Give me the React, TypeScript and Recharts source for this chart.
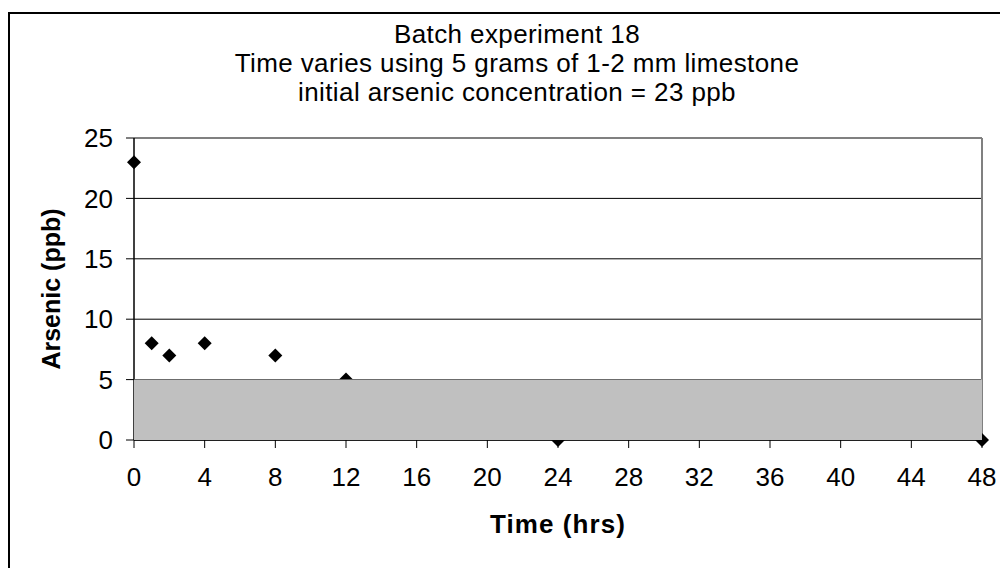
import {
  ScatterChart,
  Scatter,
  XAxis,
  YAxis,
  CartesianGrid,
  ReferenceArea,
  ReferenceLine,
} from 'recharts';

// 時間 (hrs) と ヒ素濃度 (ppb)
const hours = [0, 1, 2, 4, 8, 12, 24, 48];
const arsenic = [23, 8, 7, 8, 7, 5, 0, 0];
const xTicks = [0, 4, 8, 12, 16, 20, 24, 28, 32, 36, 40, 44, 48];
const yTicks = [0, 5, 10, 15, 20, 25];
const titleLines = [
  'Batch experiment 18',
  'Time varies using 5 grams of 1-2 mm limestone',
  'initial arsenic concentration = 23 ppb',
];
const limitBand = [0, 5];

const FONT = '"Liberation Sans", Arial, sans-serif';

const Diamond = (props: any) => {
  const { cx, cy } = props;
  const r = 7;
  return (
    <polygon
      points={`${cx},${cy - r} ${cx + r},${cy} ${cx},${cy + r} ${cx - r},${cy}`}
      fill="#000"
    />
  );
};

export default function App() {
  const data = hours.map((h, i) => ({ x: h, y: arsenic[i] }));

  return (
    <div style={{ position: 'relative', width: 1000, height: 560, overflow: 'hidden', fontFamily: FONT }}>
      {/* 外枠（右・下は画像外） */}
      <div
        style={{
          position: 'absolute',
          left: 0,
          top: 4,
          width: 1200,
          height: 800,
          borderTop: '2px solid #000',
          borderLeft: '2px solid #000',
        }}
      />
      {titleLines.map((t, i) => (
        <div
          key={i}
          style={{
            position: 'absolute',
            left: 209,
            width: 600,
            top: 11 + i * 29,
            lineHeight: '30px',
            fontSize: 26,
            letterSpacing: 0.4,
            textAlign: 'center',
            color: '#000',
          }}
        >
          {t}
        </div>
      ))}
      <div style={{ position: 'absolute', left: 0, top: 0 }}>
        <ScatterChart
          width={1000}
          height={560}
          margin={{ top: 130, right: 26, left: 0, bottom: 0 }}
        >
          <CartesianGrid vertical={false} stroke="#000" strokeWidth={1} />
          <XAxis
            type="number"
            dataKey="x"
            domain={[0, 48]}
            ticks={xTicks}
            interval={0}
            height={128}
            tickSize={8}
            tickMargin={20}
            axisLine={{ stroke: '#000', strokeWidth: 1.5 }}
            tickLine={{ stroke: '#000' }}
            tick={{ fill: '#000', fontSize: 26, fontFamily: FONT }}
            label={{
              content: (p: any) => {
                const vb = p.viewBox;
                return (
                  <text
                    x={vb.x + vb.width / 2}
                    y={525}
                    textAnchor="middle"
                    fontSize={26}
                    fontWeight="bold"
                    letterSpacing={1.1}
                    fontFamily={FONT}
                    fill="#000"
                  >
                    Time (hrs)
                  </text>
                );
              },
            }}
          />
          <YAxis
            type="number"
            dataKey="y"
            domain={[0, 25]}
            ticks={yTicks}
            interval={0}
            width={126}
            tickSize={8}
            tickMargin={13}
            axisLine={{ stroke: '#000', strokeWidth: 1.5 }}
            tickLine={{ stroke: '#000' }}
            tick={{ fill: '#000', fontSize: 26, fontFamily: FONT }}
            label={{
              content: (p: any) => {
                const vb = p.viewBox;
                const cy = vb.y + vb.height / 2;
                return (
                  <text
                    x={52}
                    y={cy}
                    transform={`rotate(-90, 52, ${cy})`}
                    textAnchor="middle"
                    fontSize={25}
                    fontWeight="bold"
                    fontFamily={FONT}
                    fill="#000"
                  >
                    Arsenic (ppb)
                  </text>
                );
              },
            }}
          />
          <ReferenceLine y={25} stroke="#808080" strokeWidth={2} />
          <ReferenceLine x={48} stroke="#808080" strokeWidth={2} />
          <Scatter data={data} shape={Diamond} isAnimationActive={false} />
          <ReferenceArea
            y1={limitBand[0]}
            y2={limitBand[1]}
            x1={0}
            x2={48}
            fill="#C0C0C0"
            fillOpacity={1}
            stroke="none"
            zIndex={700}
          />
        </ScatterChart>
      </div>
    </div>
  );
}
